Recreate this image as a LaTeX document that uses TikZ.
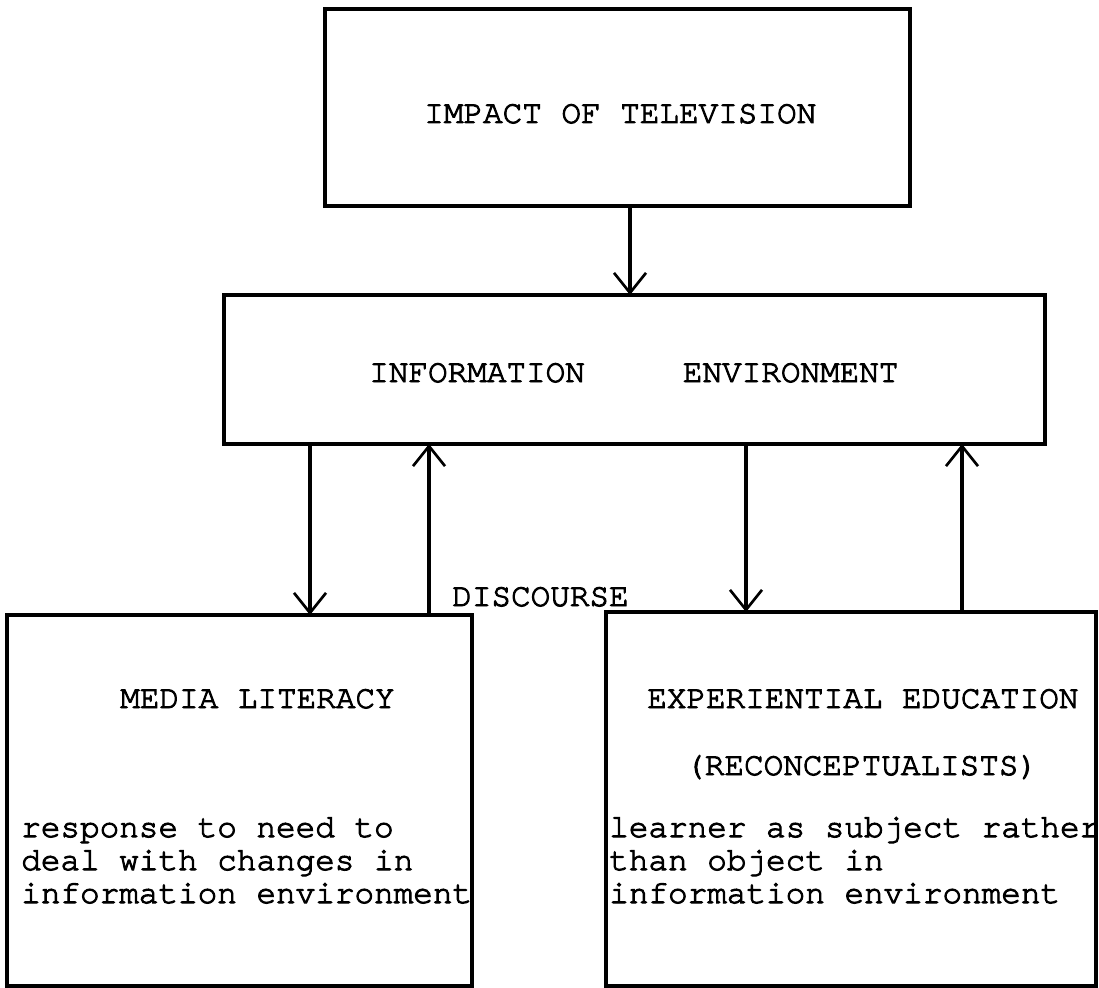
\documentclass[tikz,border=0pt]{standalone}
\usepackage{fontspec}
\usepackage{tikz}
\usetikzlibrary{arrows.meta}
\newfontfamily\typewriter[FakeBold=3]{TeX Gyre Cursor}

\tikzset{
	box/.style={draw, line width=2.4pt, inner sep=0pt, outer sep=0pt},
	txt/.style={font=\typewriter\fontsize{24.5}{24.75}\selectfont, inner sep=0pt, anchor=base west, align=left},
	arr/.style={line width=2.4pt, -{Straight Barb[length=15pt, width=24pt, line width=2pt]}}
}

\begin{document}
\begin{tikzpicture}[x=0.75pt,y=0.75pt,yscale=-1,xscale=1]
	\useasboundingbox (0,0) rectangle (1099,988);
	
	%Boxes
	\node [box, minimum width=438.75pt, minimum height=147.75pt] (tv) at (617.5,107.5) {};
	\node [box, minimum width=615.75pt, minimum height=111.75pt] (info) at (634.5,369.5) {};
	\node [box, minimum width=348.75pt, minimum height=278.25pt] (media) at (239.5,800.5) {};
	\node [box, minimum width=367.5pt, minimum height=280.5pt] (exper) at (851,799) {};
	
	% Text Node
	\node [txt] (tvtext) at (424,123) {IMPACT OF TELEVISION};
	% Text Node
	\node [txt] (infotext) at (369,382) {INFORMATION\ \ \ \ \ ENVIRONMENT};
	% Text Node
	\node [txt] (disc) at (452,606) {DISCOURSE};
	% Text Node
	\node [txt] (mediatitle) at (120,708) {MEDIA LITERACY};
	% Text Node (anchored on its last line)
	\node [txt] (mediabody) at (21,903) {response to need to\\deal with changes in\\information environment};
	% Text Node
	\node [txt] (expertitle) at (647,708) {EXPERIENTIAL EDUCATION};
	% Text Node
	\node [txt] (recon) at (685,775) {(RECONCEPTUALISTS)};
	% Text Node (anchored on its last line)
	\node [txt] (experbody) at (609,903) {learner as subject rather\\than object in\\information environment};
	
	%Arrows
	\draw [arr] (630,0 |- tv.south) -- (630,0 |- info.north);
	\draw [arr] (310,0 |- info.south) -- (310,0 |- media.north);
	\draw [arr] (429,0 |- media.north) -- (429,0 |- info.south);
	\draw [arr] (746,0 |- info.south) -- (746,0 |- exper.north);
	\draw [arr] (962,0 |- exper.north) -- (962,0 |- info.south);
	
\end{tikzpicture}
\end{document}
